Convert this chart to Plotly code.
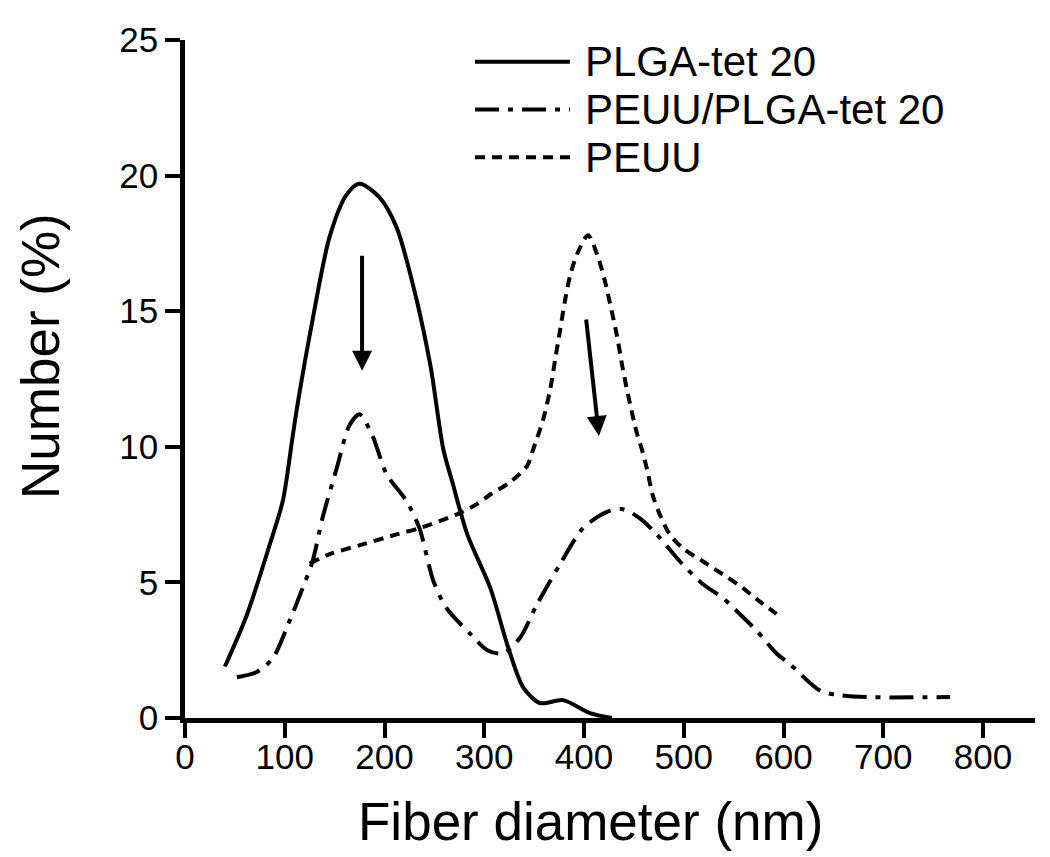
import plotly.graph_objects as go

# ── Data ───────────────────────────────────────────────────────────────────
plga_x = [40, 62, 85, 98, 108, 113, 128, 145, 162, 175, 195, 212, 229, 246,
          259, 268, 283, 306, 324, 339, 356, 379, 406, 428]
plga_y = [1.9, 3.8, 6.4, 8.0, 10.4, 11.6, 14.7, 17.75, 19.3, 19.7, 19.2, 18.1,
          15.9, 13.0, 9.9, 8.7, 6.77, 4.8, 2.6, 1.13, 0.55, 0.66, 0.18, 0.0]

blend_x = [52, 72, 88, 105, 118, 128, 138, 152, 165, 175, 188, 202, 222, 235,
           249, 262, 286, 303, 319, 336, 353, 376, 399, 423, 439, 456, 473,
           496, 519, 539, 556, 573, 593, 606, 637, 657, 684, 767]
blend_y = [1.5, 1.7, 2.2, 3.6, 4.8, 5.8, 7.4, 9.2, 10.8, 11.2, 10.4, 9.0, 8.0,
           7.0, 5.05, 4.06, 3.1, 2.5, 2.38, 2.97, 4.2, 5.67, 7.0, 7.6, 7.7,
           7.36, 6.77, 5.78, 4.94, 4.43, 3.84, 3.22, 2.38, 2.0, 1.0, 0.84,
           0.77, 0.77]

peuu_x = [125, 145, 178, 212, 235, 272, 292, 306, 326, 343, 349, 359, 366,
          371, 376, 381, 386, 393, 404, 414, 421, 426, 433, 439, 446, 453,
          458, 463, 469, 476, 486, 499, 519, 539, 559, 576, 593]
peuu_y = [5.7, 6.04, 6.4, 6.77, 7.0, 7.5, 7.87, 8.24, 8.7, 9.3, 9.9, 11.0,
          12.1, 13.2, 14.3, 15.4, 16.3, 17.1, 17.8, 17.0, 16.1, 15.3, 14.1,
          12.85, 11.6, 10.5, 9.9, 9.2, 8.2, 7.5, 6.77, 6.26, 5.78, 5.3, 4.8,
          4.3, 3.84]

series_names = ["PLGA-tet 20", "PEUU/PLGA-tet 20", "PEUU"]
x_ticks = [0, 100, 200, 300, 400, 500, 600, 700, 800]
y_ticks = [0, 5, 10, 15, 20, 25]

# arrows: (tail x, tail y, head x, head y)
arrows = [(177.5, 17.1, 177.5, 12.8), (402, 14.75, 415, 10.4)]

FONT = "Liberation Sans, Arial, sans-serif"
dashes = ["solid", "24px,9px,5px,9px", "10px,7px"]

fig = go.Figure()

for xs, ys, name, dash in zip([plga_x, blend_x, peuu_x], [plga_y, blend_y, peuu_y],
                              series_names, dashes):
    fig.add_trace(go.Scatter(
        x=xs, y=ys, mode="lines", name=name,
        line=dict(color="black", width=4, dash=dash, shape="spline", smoothing=0.8),
        showlegend=False, hoverinfo="skip",
    ))

# ── Arrows ─────────────────────────────────────────────────────────────────
for ax_, ay_, hx, hy in arrows:
    fig.add_annotation(
        x=hx, y=hy, ax=ax_, ay=ay_, xref="x", yref="y", axref="x", ayref="y",
        text="", showarrow=True, arrowhead=2, arrowsize=1.0, arrowwidth=4,
        arrowcolor="black",
    )

# ── Manual legend (long line samples) ──────────────────────────────────────
rows_y = [0.9678, 0.8975, 0.8272]
for name, dash, ry in zip(series_names, dashes, rows_y):
    fig.add_shape(type="line", xref="paper", yref="paper",
                  x0=0.3412, x1=0.4529, y0=ry, y1=ry,
                  line=dict(color="black", width=4, dash=dash))
    fig.add_annotation(xref="paper", yref="paper", x=0.4682, y=ry,
                       xanchor="left", yanchor="middle", text=name,
                       showarrow=False, font=dict(family=FONT, size=42, color="black"))

# ── Axis titles ────────────────────────────────────────────────────────────
fig.add_annotation(xref="paper", yref="paper", x=0.4765, y=-0.152,
                   xanchor="center", yanchor="middle", text="Fiber diameter (nm)",
                   showarrow=False, font=dict(family=FONT, size=53, color="black"))
fig.add_annotation(xref="paper", yref="paper", x=-0.1694, y=0.534,
                   xanchor="center", yanchor="middle", text="Number (%)",
                   textangle=-90, showarrow=False,
                   font=dict(family=FONT, size=53, color="black"))

axis_common = dict(
    showgrid=False, zeroline=False, showline=True, linecolor="black", linewidth=4.5,
    ticks="outside", ticklen=15, tickwidth=4, tickcolor="black",
    tickfont=dict(family=FONT, size=35, color="black"),
)
# page body has an 8px margin, so the figure is shifted and shrunk by that much
fig.update_layout(
    width=1042, height=849,
    paper_bgcolor="white", plot_bgcolor="white",
    margin=dict(l=177, r=15, t=27, b=139),
    xaxis=dict(range=[0, 852.1], tickvals=x_ticks, ticklabelstandoff=-11, **axis_common),
    yaxis=dict(range=[0, 25], tickvals=y_ticks, **axis_common),
    showlegend=False,
)

fig.write_html("out.html")
